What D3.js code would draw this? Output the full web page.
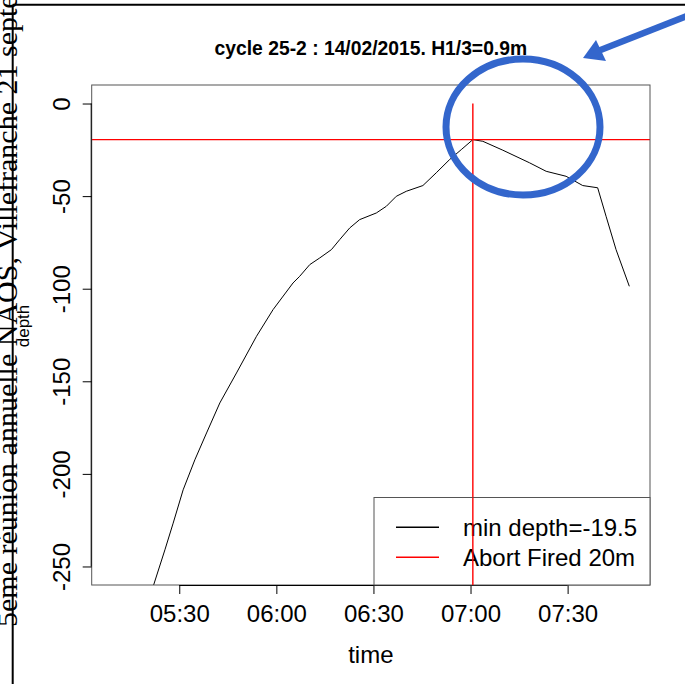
<!DOCTYPE html>
<html>
<head>
<meta charset="utf-8">
<script src="https://cdn.jsdelivr.net/npm/d3@7"></script>
<style>
  body { margin: 0; background: #fff; }
  svg { display: block; }
  text { font-family: "Liberation Sans", Arial, sans-serif; }
</style>
</head>
<body>
<div id="chart"></div>
<script>
// data (time of day, depth in m)
const times = ["05:09:20", "05:21:56", "05:25:34", "05:28:07", "05:31:12", "05:34:49",
  "05:38:26", "05:42:32", "05:47:41", "05:53:52", "05:58:59", "06:05:09", "06:07:13",
  "06:10:19", "06:13:24", "06:17:01", "06:19:34", "06:22:40", "06:25:44", "06:30:54",
  "06:33:59", "06:37:04", "06:40:09", "06:45:17", "06:49:25", "06:53:31", "06:57:08",
  "07:00:43", "07:03:48", "07:09:58", "07:18:13", "07:23:22", "07:29:32", "07:34:40",
  "07:39:17", "07:41:53", "07:44:58", "07:49:04"];
const depths = [-329, -260.8, -241.0, -226.6, -208.6, -192.4,
  -177.9, -161.7, -145.5, -125.7, -111.3, -96.9, -93.3,
  -87.0, -83.4, -78.9, -73.5, -67.2, -62.7, -59.1,
  -55.5, -50.1, -47.4, -44.3, -37.4, -30.3, -24.9,
  -19.5, -20.4, -25.2, -32.0, -36.6, -39.3, -44.3,
  -45.5, -60.9, -78.9, -98.7];
const yTicks = [0, -50, -100, -150, -200, -250];
const title = "cycle 25-2 : 14/02/2015. H1/3=0.9m";
const legendLabels = ["min depth=", "Abort Fired 20m"];
const legendColors = ["#000000", "#ff0000"];
const slideText = "5eme réunion annuelle NAOS, Villefranche 21 septembre 2015";

const width = 685, height = 684;
const parseTime = d3.utcParse("%H:%M:%S");
const data = times.map((t, i) => ({ t: parseTime(t), d: depths[i] }));

// plot region
const pLeft = 91.7, pRight = 650, pTop = 85, pBottom = 585;

const svg = d3.select("#chart").append("svg")
  .attr("width", width)
  .attr("height", height);

// R style 4% padding on x
const ext = d3.extent(data, d => d.t);
const pad = (ext[1] - ext[0]) * 0.04;
const x = d3.scaleUtc()
  .domain([new Date(+ext[0] - pad), new Date(+ext[1] + pad)])
  .range([pLeft, pRight]);
const y = d3.scaleLinear()
  .domain([-250 - 10, 0 + 10])
  .range([pBottom, pTop]);

// slide decoration: rotated serif footer text and frame lines
svg.append("text")
  .attr("transform", "translate(17,627) rotate(-90)")
  .style("font-family", "'Liberation Serif', 'Times New Roman', serif")
  .style("font-size", "30px")
  .attr("fill", "#000")
  .text(slideText);
svg.append("line")
  .attr("x1", 12.7).attr("x2", 12.7).attr("y1", 4.7).attr("y2", height)
  .attr("stroke", "#000").attr("stroke-width", 2);
svg.append("line")
  .attr("x1", 12.7).attr("x2", width).attr("y1", 4.7).attr("y2", 4.7)
  .attr("stroke", "#000").attr("stroke-width", 2);

// title
svg.append("text")
  .attr("x", (pLeft + pRight) / 2)
  .attr("y", 55)
  .attr("text-anchor", "middle")
  .style("font-size", "19.3px")
  .style("font-weight", "bold")
  .text(title);

// clip for plot contents
svg.append("clipPath").attr("id", "plotclip")
  .append("rect")
  .attr("x", pLeft).attr("y", pTop)
  .attr("width", pRight - pLeft).attr("height", pBottom - pTop);

const plot = svg.append("g").attr("clip-path", "url(#plotclip)");

const line = d3.line()
  .x(d => x(d.t))
  .y(d => y(d.d));

plot.append("path")
  .datum(data)
  .attr("fill", "none")
  .attr("stroke", "#000")
  .attr("stroke-width", 1)
  .attr("d", line);

// abort markers: horizontal at min depth, vertical at its time from 0 down
const minDepth = d3.max(depths);
const peak = data.find(d => d.d === minDepth);
const hy = y(minDepth);
const vx = x(peak.t);
plot.append("line")
  .attr("x1", pLeft).attr("x2", pRight)
  .attr("y1", hy).attr("y2", hy)
  .attr("stroke", "#ff0000").attr("stroke-width", 1.4);
plot.append("line")
  .attr("x1", vx).attr("x2", vx)
  .attr("y1", y(0)).attr("y2", y(-300))
  .attr("stroke", "#ff0000").attr("stroke-width", 1.4);

// box
svg.append("rect")
  .attr("x", pLeft).attr("y", pTop)
  .attr("width", pRight - pLeft).attr("height", pBottom - pTop)
  .attr("fill", "none")
  .attr("stroke", "#555").attr("stroke-width", 1);

// x axis
const xTicks = x.ticks(d3.utcMinute.every(30));
const xAxis = svg.append("g")
  .attr("transform", `translate(0,${pBottom})`)
  .call(d3.axisBottom(x).tickValues(xTicks).tickFormat(d3.utcFormat("%H:%M"))
    .tickSizeInner(9).tickSizeOuter(0).tickPadding(11));
xAxis.select(".domain")
  .attr("d", `M${x(xTicks[0])},0.5H${x(xTicks[xTicks.length - 1])}`);
xAxis.selectAll("text")
  .style("font-size", "24px")
  .style("font-family", "'Liberation Sans', Arial, sans-serif")
  .attr("fill", "#000");

svg.append("text")
  .attr("x", (pLeft + pRight) / 2)
  .attr("y", 663)
  .attr("text-anchor", "middle")
  .style("font-size", "24px")
  .text("time");

// y axis with labels parallel to axis
const yAxis = svg.append("g")
  .attr("transform", `translate(${pLeft},0)`)
  .call(d3.axisLeft(y).tickValues(yTicks).tickFormat(d => String(d))
    .tickSizeInner(9).tickSizeOuter(0));
yAxis.select(".domain")
  .attr("d", `M-0.5,${y(0)}V${y(-250)}`);
yAxis.selectAll(".tick text")
  .attr("x", null).attr("dy", null)
  .attr("transform", "translate(-21.7,0) rotate(-90)")
  .attr("text-anchor", "middle")
  .style("font-size", "24px")
  .style("font-family", "'Liberation Sans', Arial, sans-serif")
  .attr("fill", "#000");

svg.append("text")
  .attr("transform", `translate(29,${(pTop + pBottom) / 2 - 9}) rotate(-90)`)
  .attr("text-anchor", "middle")
  .style("font-size", "17px")
  .text("depth");

// legend, bottom right inside plot
const lg = svg.append("g");
lg.append("rect")
  .attr("x", 374).attr("y", 497.5)
  .attr("width", pRight - 374).attr("height", pBottom - 497.5)
  .attr("fill", "#fff")
  .attr("stroke", "#555").attr("stroke-width", 1);
legendLabels.forEach((lab, i) => {
  const ly = 527.2 + i * 30;
  lg.append("line")
    .attr("x1", 396).attr("x2", 439)
    .attr("y1", ly).attr("y2", ly)
    .attr("stroke", legendColors[i]).attr("stroke-width", 1.4);
  lg.append("text")
    .attr("x", 463).attr("y", ly + 9)
    .style("font-size", "24px")
    .text(i === 0 ? lab + minDepth : lab);
});

// vertical red line passes over the legend in the original
svg.append("line")
  .attr("x1", vx).attr("x2", vx)
  .attr("y1", 497.5).attr("y2", pBottom)
  .attr("stroke", "#ff0000").attr("stroke-width", 1.4);

// blue hand-drawn style annotation
const blue = "#3366cc";
svg.append("ellipse")
  .attr("cx", 523).attr("cy", 127)
  .attr("rx", 77).attr("ry", 68)
  .attr("fill", "none")
  .attr("stroke", blue).attr("stroke-width", 7);
svg.append("line")
  .attr("x1", 692).attr("y1", 14)
  .attr("x2", 598).attr("y2", 51)
  .attr("stroke", blue).attr("stroke-width", 6.5);
svg.append("path")
  .attr("d", "M583,58 L596,40 L606,61 Z")
  .attr("fill", blue);
</script>
</body>
</html>
